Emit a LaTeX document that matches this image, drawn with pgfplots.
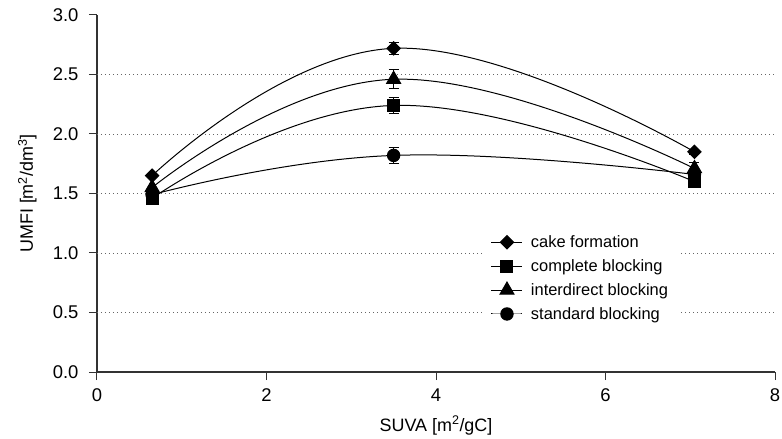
\documentclass[border=0pt]{standalone}
\usepackage{fontspec}
\setmainfont{Liberation Sans}
\usepackage{pgfplots}
\usepackage{pgfplotstable}
\pgfplotsset{compat=1.18}

% UMFI vs SUVA, one table per blocking model: x, y, error
\pgfplotstableread{
x     y     e
0.65  1.65  0
3.5   2.72  0.05
7.05  1.85  0.02
}\cake
\pgfplotstableread{
x     y     e
0.65  1.46  0
3.5   2.24  0.07
7.05  1.60  0.03
}\complete
\pgfplotstableread{
x     y     e
0.65  1.55  0
3.5   2.46  0.08
7.05  1.71  0.05
}\interdirect
\pgfplotstableread{
x     y     e
0.65  1.49  0
3.5   1.82  0.065
7.05  1.66  0.03
}\standard

\pgfplotsset{
  curve/.style={black, line width=1bp, smooth, tension=0.75,
    error bars/y dir=both, error bars/y explicit,
    error bars/error bar style={line width=1bp, black},
    error bars/error mark options={rotate=90, mark size=5bp, line width=1bp, black}},
}

\begin{document}
\begin{tikzpicture}[font=\fontsize{16.5}{20}\selectfont]
\useasboundingbox (-97bp,-67bp) rectangle (685bp,372bp);
\begin{axis}[
  scale only axis, width=678bp, height=357bp,
  xmin=0, xmax=8, ymin=0, ymax=3,
  axis lines=left,
  axis line style={-, line width=1.2bp, black!80},
  xtick={0,2,4,6,8},
  ytick={0,0.5,1,1.5,2,2.5,3},
  /pgf/number format/assume math mode=true,
  tick label style={font=\fontsize{18.5}{22}\selectfont},
  yticklabel style={xshift=-7bp, /pgf/number format/.cd, fixed, fixed zerofill, precision=1},
  xticklabel style={yshift=-5bp},
  label style={font=\fontsize{18}{22}\selectfont},
  tick align=outside,
  major tick length=8bp,
  tick style={line width=1bp, black!80},
  extra y ticks={0.5,1,1.5,2,2.5},
  extra y tick labels={},
  extra y tick style={ymajorgrids=true, major tick length=0pt},
  major grid style={dash pattern=on 1bp off 3bp, black!60, line width=0.9bp},
  xlabel={SUVA [m\textsuperscript{2}/gC]},
  ylabel={UMFI [m\textsuperscript{2}/dm\textsuperscript{3}]},
  xlabel style={at={([yshift=-59bp]axis description cs:0.5,0)}, anchor=base},
  ylabel style={at={([xshift=-64bp]axis description cs:0,0.5)}, anchor=base},
  legend style={at={(rel axis cs:0.569,0.405)}, anchor=north west,
    draw=none, fill=white, row sep=6.5bp, inner xsep=8bp, inner ysep=6bp,
    font=\fontsize{16.5}{20}\selectfont,
    /tikz/every odd column/.style={column sep=6bp}},
  legend cell align=left,
  legend image code/.code={\draw[mark repeat=2, mark phase=2, #1]
    plot coordinates {(0bp,0bp) (15.5bp,0bp) (31bp,0bp)};},
]
\addplot[curve, mark=square*, mark size=4.7bp, mark options={rotate=45}]
  table[x=x, y=y, y error=e] {\cake};
\addlegendentry{cake formation}
\addplot[curve, mark=square*, mark size=6bp]
  table[x=x, y=y, y error=e] {\complete};
\addlegendentry{complete blocking}
\addplot[curve, mark=triangle*, mark size=8bp]
  table[x=x, y=y, y error=e] {\interdirect};
\addlegendentry{interdirect blocking}
\addplot[curve, mark=*, mark size=6.2bp]
  table[x=x, y=y, y error=e] {\standard};
\addlegendentry{standard blocking}
\end{axis}
\end{tikzpicture}
\end{document}
